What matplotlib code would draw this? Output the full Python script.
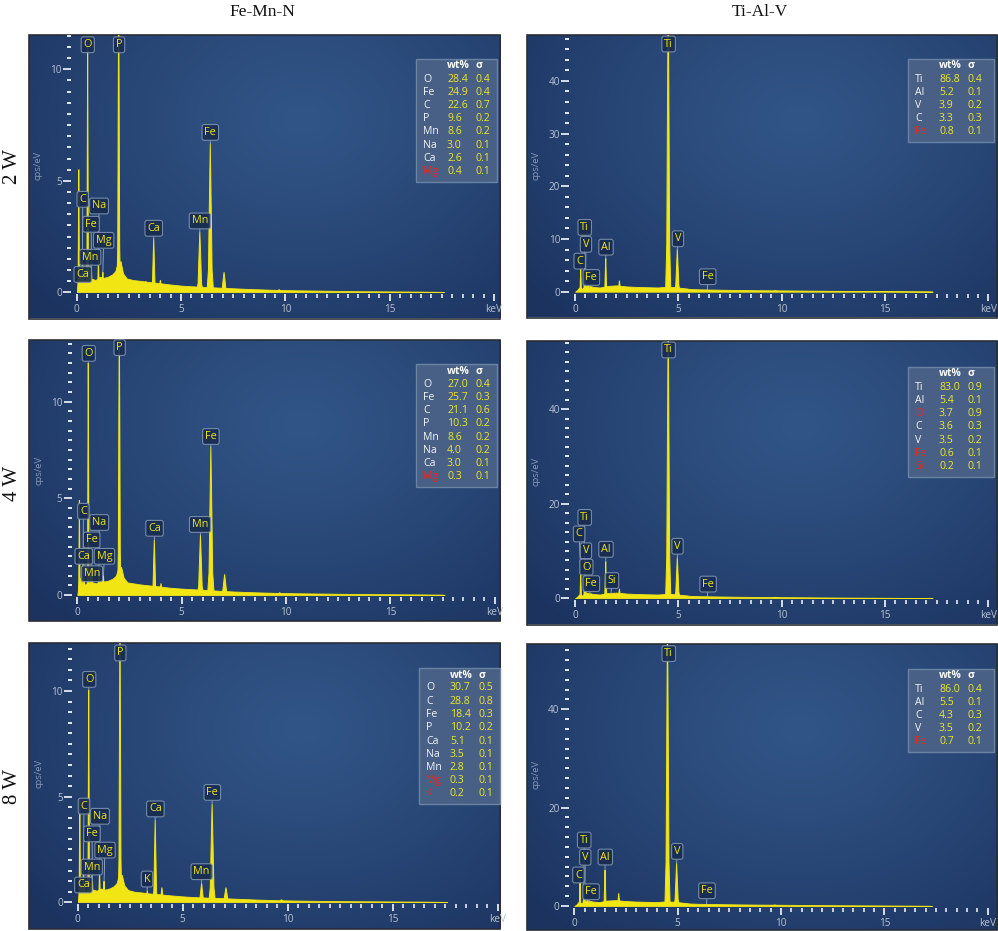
import numpy as np
import matplotlib
matplotlib.use("Agg")
import matplotlib.pyplot as plt
from matplotlib.ticker import MultipleLocator, FixedLocator
from matplotlib.patches import Rectangle

# ------------------------------------------------------------------ data
col_titles = ["Fe-Mn-N", "Ti-Al-V"]
row_labels = ["2 W", "4 W", "8 W"]

# Fe-Mn-N spectra: peak lines (keV) and heights (cps/eV)
femn_peak_names = ["noise", "C", "Ca L", "O", "Mn L", "Fe L", "Na", "Mg", "P",
                   "K", "Ca", "Ca Kb", "Mn", "Fe", "Fe Kb", "X"]
femn_peak_kev = [0.10, 0.277, 0.341, 0.525, 0.637, 0.705, 1.041, 1.254, 2.013,
                 3.31, 3.69, 4.01, 5.90, 6.40, 7.06, 9.70]
femn_2w_cps = [5.50, 1.60, 0.80, 11.0, 1.00, 1.10, 1.40, 0.90, 14.0,
               0.50, 2.42, 0.55, 2.72, 6.68, 0.90, 0.12]
femn_4w_cps = [4.90, 1.60, 0.80, 12.0, 1.00, 1.10, 1.50, 1.00, 15.0,
               0.50, 2.85, 0.60, 3.10, 7.67, 1.07, 0.12]
femn_8w_cps = [4.92, 1.80, 0.80, 10.05, 0.90, 1.00, 1.50, 1.00, 14.0,
               0.55, 3.90, 0.70, 0.90, 4.65, 0.70, 0.12]

femn_bg_kev = [0.00, 0.06, 0.12, 0.20, 0.30, 0.40, 0.50, 0.60, 0.75, 0.90, 1.10,
               1.30, 1.50, 1.70, 1.85, 1.95, 2.10, 2.22, 2.40, 2.70, 3.00, 3.40,
               3.90, 4.40, 5.00, 5.50, 6.20, 6.80, 7.50, 8.50, 9.50, 10.50,
               12.00, 13.50, 15.00, 16.50, 17.50, 17.60]
femn_2w_bg = [0.00, 0.40, 0.90, 0.60, 0.50, 0.55, 0.60, 0.55, 0.60, 0.55, 0.70,
              0.65, 0.70, 0.80, 0.95, 1.30, 1.40, 0.85, 0.62, 0.55, 0.52, 0.47,
              0.42, 0.36, 0.30, 0.27, 0.24, 0.21, 0.18, 0.14, 0.11, 0.09,
              0.07, 0.05, 0.04, 0.03, 0.02, 0.00]
femn_4w_bg = [0.00, 0.40, 0.90, 0.60, 0.55, 0.55, 0.65, 0.60, 0.65, 0.60, 0.75,
              0.70, 0.75, 0.85, 1.00, 1.35, 1.45, 0.90, 0.65, 0.60, 0.55, 0.50,
              0.45, 0.38, 0.33, 0.30, 0.26, 0.22, 0.18, 0.14, 0.11, 0.09,
              0.07, 0.05, 0.04, 0.03, 0.02, 0.00]
femn_8w_bg = [0.00, 0.40, 0.90, 0.60, 0.50, 0.55, 0.60, 0.55, 0.60, 0.55, 0.65,
              0.60, 0.65, 0.75, 0.90, 1.25, 1.30, 0.80, 0.58, 0.50, 0.47, 0.42,
              0.38, 0.33, 0.28, 0.25, 0.22, 0.20, 0.17, 0.13, 0.10, 0.08,
              0.06, 0.05, 0.04, 0.03, 0.02, 0.00]

# Ti-Al-V spectra
ti_peak_names = ["C", "Ti L", "V L", "O", "Fe L", "Al", "Si", "X2", "Ti", "V",
                 "V Kb", "Fe", "X"]
ti_peak_kev = [0.277, 0.452, 0.511, 0.525, 0.705, 1.487, 1.740, 2.15, 4.51, 4.95,
               5.43, 6.40, 9.70]
ti_2w_cps = [4.40, 1.80, 1.50, 0.90, 0.80, 6.30, 0.70, 2.10, 60.0, 8.05, 0.50, 0.35, 0.20]
ti_4w_cps = [5.07, 1.80, 1.50, 1.30, 0.80, 7.74, 1.00, 2.00, 60.0, 8.60, 0.50, 0.35, 0.20]
ti_8w_cps = [4.74, 1.80, 1.50, 0.90, 0.80, 7.30, 0.70, 2.60, 60.0, 8.70, 0.50, 0.35, 0.20]

ti_bg_kev = [0.00, 0.10, 0.20, 0.35, 0.60, 0.90, 1.20, 1.60, 2.00, 2.50, 3.00, 3.50,
             4.00, 4.30, 4.70, 5.20, 5.60, 6.00, 7.00, 8.00, 9.00, 10.00, 11.50,
             13.00, 14.50, 16.00, 17.20, 17.30]
ti_2w_bg = [0.00, 0.30, 0.80, 0.60, 1.20, 0.90, 0.80, 1.10, 1.20, 1.00, 0.90, 0.85,
            0.80, 0.90, 0.90, 0.70, 0.50, 0.45, 0.38, 0.32, 0.28, 0.25, 0.20,
            0.15, 0.12, 0.08, 0.05, 0.00]
ti_4w_bg = [0.00, 0.30, 0.80, 0.60, 1.20, 0.90, 0.80, 1.10, 1.20, 1.00, 0.90, 0.85,
            0.80, 0.90, 0.90, 0.70, 0.50, 0.45, 0.38, 0.32, 0.28, 0.25, 0.20,
            0.15, 0.12, 0.08, 0.05, 0.00]
ti_8w_bg = [0.00, 0.30, 0.80, 0.60, 1.20, 0.90, 0.80, 1.10, 1.20, 1.00, 0.90, 0.85,
            0.80, 0.90, 0.90, 0.70, 0.50, 0.45, 0.38, 0.32, 0.28, 0.25, 0.20,
            0.15, 0.12, 0.08, 0.05, 0.00]

# quantification tables
femn_2w_el = ["O", "Fe", "C", "P", "Mn", "Na", "Ca", "Mg"]
femn_2w_wt = ["28.4", "24.9", "22.6", "9.6", "8.6", "3.0", "2.6", "0.4"]
femn_2w_sig = ["0.4", "0.4", "0.7", "0.2", "0.2", "0.1", "0.1", "0.1"]
femn_2w_red = ["Mg"]
femn_4w_el = ["O", "Fe", "C", "P", "Mn", "Na", "Ca", "Mg"]
femn_4w_wt = ["27.0", "25.7", "21.1", "10.3", "8.6", "4.0", "3.0", "0.3"]
femn_4w_sig = ["0.4", "0.3", "0.6", "0.2", "0.2", "0.2", "0.1", "0.1"]
femn_4w_red = ["Mg"]
femn_8w_el = ["O", "C", "Fe", "P", "Ca", "Na", "Mn", "Mg", "K"]
femn_8w_wt = ["30.7", "28.8", "18.4", "10.2", "5.1", "3.5", "2.8", "0.3", "0.2"]
femn_8w_sig = ["0.5", "0.8", "0.3", "0.2", "0.1", "0.1", "0.1", "0.1", "0.1"]
femn_8w_red = ["Mg", "K"]
ti_2w_el = ["Ti", "Al", "V", "C", "Fe"]
ti_2w_wt = ["86.8", "5.2", "3.9", "3.3", "0.8"]
ti_2w_sig = ["0.4", "0.1", "0.2", "0.3", "0.1"]
ti_2w_red = ["Fe"]
ti_4w_el = ["Ti", "Al", "O", "C", "V", "Fe", "Si"]
ti_4w_wt = ["83.0", "5.4", "3.7", "3.6", "3.5", "0.6", "0.2"]
ti_4w_sig = ["0.9", "0.1", "0.9", "0.3", "0.2", "0.1", "0.1"]
ti_4w_red = ["O", "Fe", "Si"]
ti_8w_el = ["Ti", "Al", "C", "V", "Fe"]
ti_8w_wt = ["86.0", "5.5", "4.3", "3.5", "0.7"]
ti_8w_sig = ["0.4", "0.1", "0.3", "0.2", "0.1"]
ti_8w_red = ["Fe"]

# ------------------------------------------------------------------ layout / annotations
# tag: (text, peak name, tag centre keV, tag centre cps)
femn_2w_tags = [("O", "O", 0.53, 11.1), ("P", "P", 2.03, 11.1), ("Fe", "Fe", 6.40, 7.17),
                ("Mn", "Mn", 5.90, 3.20), ("Ca", "Ca", 3.69, 2.87), ("C", "C", 0.29, 4.17),
                ("Na", "Na", 1.07, 3.87), ("Fe", "Fe L", 0.69, 3.05), ("Mg", "Mg", 1.29, 2.33),
                ("Mn", "Mn L", 0.65, 1.57), ("Ca", "Ca L", 0.29, 0.80)]
femn_4w_tags = [("O", "O", 0.55, 12.5), ("P", "P", 2.03, 12.8), ("Fe", "Fe", 6.40, 8.2),
                ("Mn", "Mn", 5.88, 3.65), ("Ca", "Ca", 3.70, 3.45), ("C", "C", 0.29, 4.33),
                ("Na", "Na", 1.05, 3.75), ("Fe", "Fe L", 0.69, 2.85), ("Mg", "Mg", 1.30, 2.0),
                ("Ca", "Ca L", 0.31, 2.0), ("Mn", "Mn L", 0.70, 1.1)]
femn_8w_tags = [("O", "O", 0.55, 10.55), ("P", "P", 2.03, 11.8), ("Fe", "Fe", 6.41, 5.2),
                ("Ca", "Ca", 3.70, 4.42), ("Mn", "Mn", 5.90, 1.45), ("K", "K", 3.30, 1.1),
                ("C", "C", 0.30, 4.55), ("Na", "Na", 1.06, 4.07), ("Fe", "Fe L", 0.68, 3.24),
                ("Mg", "Mg", 1.30, 2.47), ("Mn", "Mn L", 0.67, 1.67), ("Ca", "Ca L", 0.27, 0.82)]
ti_2w_tags = [("Ti", "Ti", 4.53, 47.0), ("V", "V", 4.98, 10.05), ("Al", "Al", 1.50, 8.45),
              ("Fe", "Fe", 6.42, 2.85), ("Ti", "Ti L", 0.47, 12.2), ("V", "V L", 0.53, 9.0),
              ("C", "C", 0.23, 5.8), ("Fe", "Fe L", 0.79, 2.7)]
ti_4w_tags = [("Ti", "Ti", 4.53, 52.5), ("V", "V", 4.96, 11.0), ("Al", "Al", 1.50, 10.35),
              ("Fe", "Fe", 6.44, 3.0), ("Si", "Si", 1.79, 3.75), ("Ti", "Ti L", 0.47, 17.1),
              ("C", "C", 0.20, 13.6), ("V", "V L", 0.53, 10.05), ("O", "O", 0.55, 6.6),
              ("Fe", "Fe L", 0.79, 3.1)]
ti_8w_tags = [("Ti", "Ti", 4.57, 51.3), ("V", "V", 4.98, 11.1), ("Al", "Al", 1.50, 9.95),
              ("Fe", "Fe", 6.42, 3.1), ("Ti", "Ti L", 0.48, 13.4), ("V", "V L", 0.53, 9.9),
              ("C", "C", 0.20, 6.3), ("Fe", "Fe L", 0.81, 2.9)]

W, H = 998, 931
fig = plt.figure(figsize=(W / 100, H / 100), dpi=100)
fig.patch.set_facecolor("white")

UI_FONT = ["Open Sans", "DejaVu Sans"]
YEL = "#f2e514"
NUM = "#ece52c"
RED = "#f0241c"


def fx(px):
    return px / W


def fy(py):
    return 1 - py / H


# radial background image
gy, gx = np.mgrid[0:1:200j, 0:1:200j]
rr = np.clip(np.sqrt(((gx - 0.58) / 0.75) ** 2 + ((gy - 0.70) / 0.95) ** 2), 0, 1)
c_in = np.array([0x31, 0x55, 0x87]) / 255
c_out = np.array([0x1c, 0x33, 0x60]) / 255
grad = c_in[None, None, :] * (1 - rr[..., None] ** 1.2) + c_out[None, None, :] * rr[..., None] ** 1.2

PROF_DX = np.array([-1.0, -0.55, -0.3, 0.0, 0.3, 0.55, 1.0])
PROF_Y = np.array([0.0, 0.15, 0.55, 1.0, 0.55, 0.15, 0.0])

panels = [
    dict(frame=(28.5, 35, 500, 318.5), origin=(76.7, 292.3), xs=20.87, ys=22.3, ymaj=5, ymin=0.5,
         names=femn_peak_names, kev=femn_peak_kev, cps=femn_2w_cps, bgk=femn_bg_kev, bgc=femn_2w_bg,
         tags=femn_2w_tags, tab=(femn_2w_el, femn_2w_wt, femn_2w_sig, femn_2w_red),
         tbox=(416, 59, 81)),
    dict(frame=(29, 340, 500, 621), origin=(77.3, 595.0), xs=20.87, ys=19.33, ymaj=5, ymin=0.5,
         names=femn_peak_names, kev=femn_peak_kev, cps=femn_4w_cps, bgk=femn_bg_kev, bgc=femn_4w_bg,
         tags=femn_4w_tags, tab=(femn_4w_el, femn_4w_wt, femn_4w_sig, femn_4w_red),
         tbox=(416, 364, 81)),
    dict(frame=(29, 643.3, 500, 928.5), origin=(77.7, 902.3), xs=21.0, ys=21.13, ymaj=5, ymin=0.5,
         names=femn_peak_names, kev=femn_peak_kev, cps=femn_8w_cps, bgk=femn_bg_kev, bgc=femn_8w_bg,
         tags=femn_8w_tags, tab=(femn_8w_el, femn_8w_wt, femn_8w_sig, femn_8w_red),
         tbox=(419, 668, 81)),
    dict(frame=(526.5, 35, 997, 317.5), origin=(575.0, 291.7), xs=20.67, ys=5.27, ymaj=10, ymin=2,
         names=ti_peak_names, kev=ti_peak_kev, cps=ti_2w_cps, bgk=ti_bg_kev, bgc=ti_2w_bg,
         tags=ti_2w_tags, tab=(ti_2w_el, ti_2w_wt, ti_2w_sig, ti_2w_red),
         tbox=(908, 59, 86)),
    dict(frame=(526.5, 341, 997, 624.5), origin=(575.0, 598.3), xs=20.67, ys=4.73, ymaj=20, ymin=2,
         names=ti_peak_names, kev=ti_peak_kev, cps=ti_4w_cps, bgk=ti_bg_kev, bgc=ti_4w_bg,
         tags=ti_4w_tags, tab=(ti_4w_el, ti_4w_wt, ti_4w_sig, ti_4w_red),
         tbox=(908, 367, 86)),
    dict(frame=(526.5, 644, 997, 930), origin=(574.3, 906.0), xs=20.67, ys=4.92, ymaj=20, ymin=2,
         names=ti_peak_names, kev=ti_peak_kev, cps=ti_8w_cps, bgk=ti_bg_kev, bgc=ti_8w_bg,
         tags=ti_8w_tags, tab=(ti_8w_el, ti_8w_wt, ti_8w_sig, ti_8w_red),
         tbox=(908, 669, 86)),
]

for p in panels:
    l, t, r, b = p["frame"]
    fax = fig.add_axes([fx(l), fy(b), (r - l) / W, (b - t) / H])
    fax.imshow(grad, extent=[0, 1, 0, 1], aspect="auto", origin="lower", zorder=0)
    fax.set_xlim(0, 1)
    fax.set_ylim(0, 1)
    fax.axis("off")
    fax.add_patch(Rectangle((0, 0), 1, 1, transform=fax.transAxes, fill=False,
                            ec="#2a2e36", lw=1.2, clip_on=False, zorder=3))

    ox, oy = p["origin"]
    ymax = (oy - t) / p["ys"]
    ax = fig.add_axes([fx(ox), fy(oy), 20 * p["xs"] / W, (oy - t) / H])
    ax.patch.set_alpha(0)
    ax.set_xlim(0, 20)
    ax.set_ylim(0, ymax)
    for s in ax.spines.values():
        s.set_visible(False)
    ax.spines["left"].set_position(("outward", 4))
    ax.spines["bottom"].set_position(("outward", 1.5))
    ax.xaxis.set_major_locator(FixedLocator([0, 5, 10, 15, 20]))
    ax.xaxis.set_minor_locator(MultipleLocator(0.5))
    ax.set_xticklabels(["0", "5", "10", "15", "keV"])
    ax.yaxis.set_major_locator(MultipleLocator(p["ymaj"]))
    ax.yaxis.set_minor_locator(MultipleLocator(p["ymin"]))
    ax.tick_params(which="both", direction="out", color="#e4eaf2", labelcolor="#b7c2d0",
                   labelsize=7.2)
    ax.tick_params(axis="x", which="major", length=5.3, width=1.3, pad=1.8)
    ax.tick_params(axis="x", which="minor", length=2.7, width=1.2)
    ax.tick_params(axis="y", which="major", length=5.5, width=1.3, pad=1.2)
    ax.tick_params(axis="y", which="minor", length=3.0, width=1.4)
    for lab in ax.get_xticklabels() + ax.get_yticklabels():
        lab.set_fontfamily(UI_FONT)

    # spectrum
    ax.fill_between(p["bgk"], p["bgc"], 0, color=YEL, lw=0.6, zorder=2)
    for E, h in zip(p["kev"], p["cps"]):
        hw = 0.05 + 0.017 * E
        ax.fill(E + hw * PROF_DX, h * PROF_Y, color=YEL, ec=YEL, lw=0.7, zorder=2)

    # peak tags
    for text, pname, tx, tyv in p["tags"]:
        i = p["names"].index(pname)
        E = p["kev"][i]
        h = min(p["cps"][i], tyv)
        ax.annotate(text, xy=(E, h), xytext=(tx, tyv), textcoords="data",
                    ha="center", va="center", fontsize=7.8, color=YEL, family=UI_FONT,
                    bbox=dict(boxstyle="round,pad=0.22,rounding_size=0.2", fc="#182c50",
                              ec="#7f93ae", lw=0.8, alpha=0.9),
                    arrowprops=dict(arrowstyle="-", color="#9fadc0", lw=0.6,
                                    shrinkA=0, shrinkB=0),
                    annotation_clip=False, zorder=5)

    # y label
    fig.text(fx(l + 9.5), fy(t + 130), "cps/eV", rotation=90, ha="center", va="center",
             fontsize=6.8, color="#8899b5", family=UI_FONT)

    # table
    el, wt, sg, red = p["tab"]
    bl, bt, bw = p["tbox"]
    bh = 20 + (len(el) - 1) * 13.25 + 10
    fig.add_artist(Rectangle((fx(bl), fy(bt + bh)), bw / W, bh / H, transform=fig.transFigure,
                             fc="#4a6286", ec="#6e86a6", lw=1.0, alpha=0.95, zorder=4))
    fig.text(fx(bl + 31), fy(bt + 7), "wt%", ha="left", va="center", fontsize=7.5,
             color="white", weight="bold", family=UI_FONT, zorder=5)
    fig.text(fx(bl + 59.5), fy(bt + 7), "σ", ha="left", va="center", fontsize=7.5,
             color="white", weight="bold", family=UI_FONT, zorder=5)
    for k, (e, w_, s_) in enumerate(zip(el, wt, sg)):
        yy = fy(bt + 20 + k * 13.25)
        fig.text(fx(bl + 7), yy, e, ha="left", va="center", fontsize=7.6,
                 color=RED if e in red else "#f2f4f7", family=UI_FONT, zorder=5)
        fig.text(fx(bl + 31), yy, w_, ha="left", va="center", fontsize=7.6,
                 color=NUM, family=UI_FONT, zorder=5)
        fig.text(fx(bl + 59.5), yy, s_, ha="left", va="center", fontsize=7.6,
                 color=NUM, family=UI_FONT, zorder=5)

# titles
fig.text(fx(262), fy(12.5), col_titles[0], ha="center", va="center", fontsize=12.5,
         family=["Liberation Serif", "DejaVu Serif"], color="#111111")
fig.text(fx(760), fy(12.5), col_titles[1], ha="center", va="center", fontsize=12.5,
         family=["Liberation Serif", "DejaVu Serif"], color="#111111")
for lab, yc in zip(row_labels, [167, 483, 787]):
    fig.text(fx(12.5), fy(yc), lab, rotation=90, ha="center", va="center", fontsize=15,
             family=["Liberation Serif", "DejaVu Serif"], color="#111111")

fig.savefig("out.png", dpi=100)
